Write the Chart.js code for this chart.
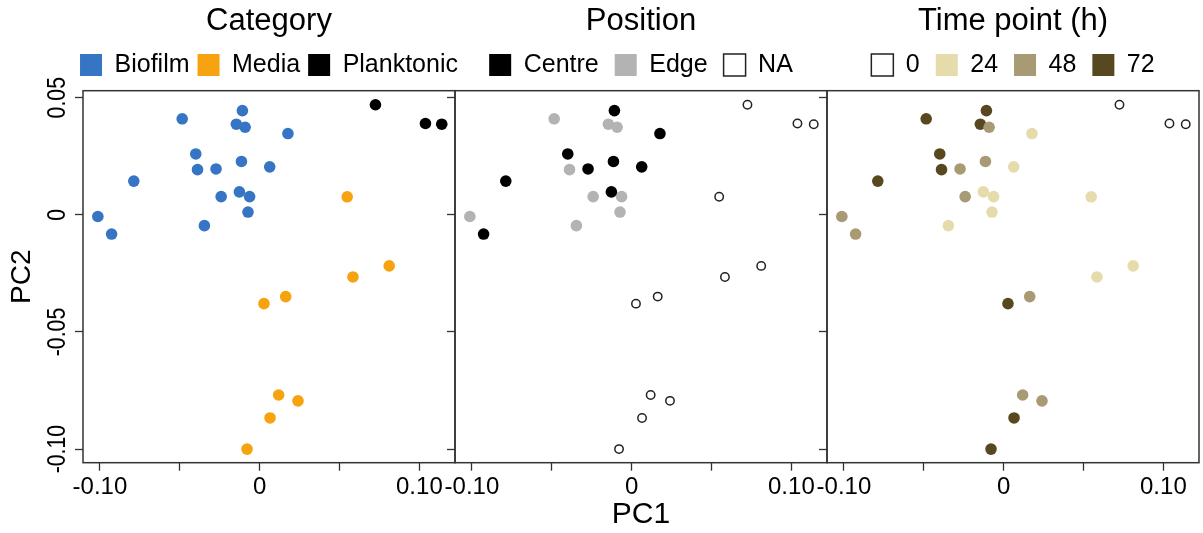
<!DOCTYPE html>
<html>
<head>
<meta charset="utf-8">
<script src="https://cdn.jsdelivr.net/npm/chart.js@4.4.1/dist/chart.umd.min.js"></script>
<style>
  html, body { margin: 0; padding: 0; background: #fff; overflow: hidden; }
  #wrap { position: relative; width: 1203px; height: 533px; overflow: hidden; }
  canvas { position: absolute; top: 0; }
</style>
</head>
<body>
<div id="wrap">
  <canvas id="c1" width="538" height="533" style="left:0px"></canvas>
  <canvas id="c2" width="538" height="533" style="left:372px"></canvas>
  <canvas id="c3" width="538" height="533" style="left:744px"></canvas>
</div>
<script>
// PCA scores, one entry per sample
const pc1 = [-0.1013, -0.0927, -0.0788, -0.0485, -0.0400, -0.0389, -0.0273, -0.0241, -0.0346, -0.0146,
             -0.0108, -0.0091, -0.0114, -0.0127, -0.0063, -0.0073, 0.0063, 0.0177,
             0.0725, 0.1038, 0.1140,
             0.0548, 0.0811, 0.0584, 0.0027, 0.0163, 0.0119, 0.0240, 0.0065, -0.0079];
const pc2 = [-0.0007, -0.0082, 0.0144, 0.0410, 0.0260, 0.0193, 0.0196, 0.0078, -0.0046, 0.0387,
             0.0445, 0.0374, 0.0228, 0.0098, 0.0078, 0.0012, 0.0205, 0.0347,
             0.0470, 0.0390, 0.0387,
             0.0077, -0.0218, -0.0265, -0.0379, -0.0349, -0.0769, -0.0794, -0.0867, -0.1000];
const category = ["Biofilm", "Biofilm", "Biofilm", "Biofilm", "Biofilm", "Biofilm", "Biofilm", "Biofilm", "Biofilm", "Biofilm",
                  "Biofilm", "Biofilm", "Biofilm", "Biofilm", "Biofilm", "Biofilm", "Biofilm", "Biofilm",
                  "Planktonic", "Planktonic", "Planktonic",
                  "Media", "Media", "Media", "Media", "Media", "Media", "Media", "Media", "Media"];
const position = ["Edge", "Centre", "Centre", "Edge", "Centre", "Edge", "Centre", "Edge", "Edge", "Edge",
                  "Centre", "Edge", "Centre", "Centre", "Edge", "Edge", "Centre", "Centre",
                  "NA", "NA", "NA",
                  "NA", "NA", "NA", "NA", "NA", "NA", "NA", "NA", "NA"];
const timePoint = ["48", "48", "72", "72", "72", "72", "48", "48", "24", "72",
                   "72", "48", "48", "24", "24", "24", "24", "24",
                   "0", "0", "0",
                   "24", "24", "24", "72", "48", "48", "48", "72", "72"];

const categoryLevels = ["Biofilm", "Media", "Planktonic"];
const categoryColors = ["#3674c4", "#f6a30f", "#000000"];
const positionLevels = ["Centre", "Edge", "NA"];
const positionColors = ["#000000", "#b3b3b3", "#ffffff"];
const timeLevels = ["0", "24", "48", "72"];
const timeColors = ["#ffffff", "#e6dbab", "#a89a74", "#58481f"];

const xTicks = [-0.10, -0.05, 0, 0.05, 0.10];
const xTickLabels = ["-0.10", "", "0", "", "0.10"];
const yTicks = [0.05, 0, -0.05, -0.10];
const yTickLabels = ["0.05", "0", "-0.05", "-0.10"];

const FONT = "'Liberation Sans', Arial, sans-serif";
Chart.defaults.font.family = FONT;
Chart.defaults.color = "#000";

function buildDatasets(groups, levels, colors) {
    return levels.map((lvl, k) => {
        const hollow = colors[k] === "#ffffff";
        return {
            label: lvl,
            data: pc1.map((x, i) => ({ x: x, y: pc2[i], g: groups[i] })).filter(p => p.g === lvl),
            backgroundColor: colors[k],
            borderColor: hollow ? "#222" : colors[k],
            borderWidth: hollow ? 1.5 : 0,
            pointRadius: hollow ? 4.2 : 5.8,
        };
    });
}

// box round the plotting region
const framePlugin = {
    id: "frame",
    afterDatasetsDraw(chart) {
        const { ctx, chartArea: a } = chart;
        ctx.save();
        ctx.strokeStyle = "#333";
        ctx.lineWidth = 1.5;
        ctx.strokeRect(a.left, a.top, a.right - a.left, a.bottom - a.top);
        ctx.restore();
    },
};

// y tick labels, rotated and a bit narrow like the original
const yLabelPlugin = {
    id: "yLabels",
    afterDraw(chart) {
        const { ctx } = chart;
        const y = chart.scales.y;
        ctx.save();
        ctx.font = "25px " + FONT;
        ctx.fillStyle = "#000";
        ctx.textAlign = "center";
        ctx.textBaseline = "middle";
        yTicks.forEach((v, i) => {
            ctx.save();
            ctx.translate(y.right - 25, y.getPixelForValue(v));
            ctx.rotate(-Math.PI / 2);
            ctx.scale(0.85, 1);
            ctx.fillText(yTickLabels[i], 0, 0);
            ctx.restore();
        });
        ctx.restore();
    },
};

// itemGap: space between legend entries; the title padding takes it back so rows line up
function makePanel(id, title, datasets, showY, xTitle, itemGap) {
    const plugins = [framePlugin];
    if (showY) plugins.push(yLabelPlugin);
    new Chart(document.getElementById(id), {
        type: "scatter",
        data: { datasets: datasets },
        options: {
            responsive: false,
            animation: false,
            events: [],
            layout: { padding: 0 },
            scales: {
                x: {
                    type: "linear",
                    min: -0.1106,
                    max: 0.1223,
                    afterBuildTicks: s => { s.ticks = xTicks.map(v => ({ value: v })); },
                    afterFit: s => { s.height = 70.3; },
                    ticks: {
                        autoSkip: false,
                        maxRotation: 0,
                        padding: 2,
                        font: { size: 24 },
                        color: "#000",
                        callback: (v, i) => xTickLabels[i],
                    },
                    grid: { drawOnChartArea: false, tickLength: 8, tickColor: "#333", tickWidth: 1.3 },
                    border: { display: false },
                    title: { display: !!xTitle, text: xTitle || "", font: { size: 30 }, color: "#000", padding: { top: 1, bottom: 0 } },
                },
                xt: {
                    type: "linear",
                    position: "top",
                    ticks: { display: false },
                    grid: { display: false },
                    border: { display: false },
                    afterFit: s => { s.height = 3.1; },
                },
                y: {
                    min: -0.1058,
                    max: 0.053,
                    afterBuildTicks: s => { s.ticks = yTicks.map(v => ({ value: v })); },
                    afterFit: s => { s.width = 83; },
                    ticks: { display: false },
                    grid: { drawOnChartArea: false, tickLength: 8, tickColor: "#333", tickWidth: 1.3 },
                    border: { display: false },
                    title: { display: showY, text: "PC2", font: { size: 28 }, color: "#000", padding: { top: 5, bottom: 0 } },
                },
                yr: {
                    type: "linear",
                    position: "right",
                    ticks: { display: false },
                    grid: { display: false },
                    border: { display: false },
                    afterFit: s => { s.width = 83; },
                },
            },
            plugins: {
                tooltip: { enabled: false },
                legend: {
                    position: "top",
                    title: {
                        display: true,
                        text: title,
                        color: "#000",
                        font: { size: 31 },
                        padding: { top: 6.4, bottom: 1 - (itemGap - 8) },
                    },
                    labels: {
                        color: "#000",
                        font: { size: 25 },
                        boxWidth: 22,
                        boxHeight: 22,
                        padding: itemGap,
                    },
                },
            },
        },
        plugins: plugins,
    });
}

makePanel("c1", "Category", buildDatasets(category, categoryLevels, categoryColors), true, null, 8);
makePanel("c2", "Position", buildDatasets(position, positionLevels, positionColors), false, "PC1", 16);
makePanel("c3", "Time point (h)", buildDatasets(timePoint, timeLevels, timeColors), false, null, 16);
</script>
</body>
</html>
